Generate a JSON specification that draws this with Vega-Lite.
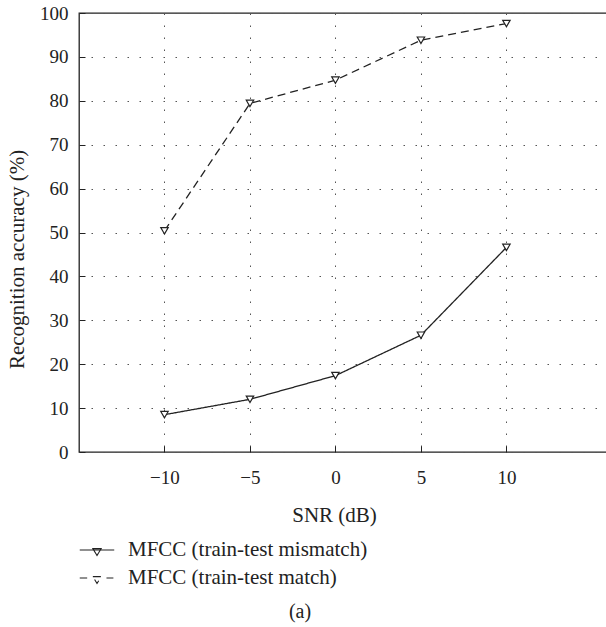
{
  "$schema": "https://vega.github.io/schema/vega-lite/v6.json",
  "width": 530,
  "height": 439,
  "autosize": {"type": "none"},
  "padding": {"left": 79, "top": 13, "right": 0, "bottom": 175},
  "background": "white",
  "title": {"text": "(a)", "orient": "bottom", "anchor": "middle", "dx": -44, "offset": 14, "fontSize": 20, "font": "Liberation Serif", "fontWeight": "normal", "color": "#222"},
  "data": {"values": [
    {"snr": -10, "acc": 8.5, "series": "MFCC (train-test mismatch)"},
    {"snr": -5, "acc": 12.0, "series": "MFCC (train-test mismatch)"},
    {"snr": 0, "acc": 17.4, "series": "MFCC (train-test mismatch)"},
    {"snr": 5, "acc": 26.6, "series": "MFCC (train-test mismatch)"},
    {"snr": 10, "acc": 46.6, "series": "MFCC (train-test mismatch)"},
    {"snr": -10, "acc": 50.4, "series": "MFCC (train-test match)"},
    {"snr": -5, "acc": 79.4, "series": "MFCC (train-test match)"},
    {"snr": 0, "acc": 84.7, "series": "MFCC (train-test match)"},
    {"snr": 5, "acc": 93.8, "series": "MFCC (train-test match)"},
    {"snr": 10, "acc": 97.6, "series": "MFCC (train-test match)"}
  ]},
  "encoding": {
    "x": {"field": "snr", "type": "quantitative",
      "scale": {"domain": [-15, 16], "nice": false, "zero": false},
      "axis": {"values": [-10, -5, 0, 5, 10], "title": "SNR (dB)", "domain": false,
        "tickSize": -6, "tickColor": "#222", "labelPadding": 22,
        "titlePadding": 17, "titleX": 255}},
    "y": {"field": "acc", "type": "quantitative",
      "scale": {"domain": [0, 100], "nice": false},
      "axis": {"values": [0, 10, 20, 30, 40, 50, 60, 70, 80, 90, 100], "title": "Recognition accuracy (%)", "domain": false,
        "tickSize": -6, "tickColor": "#222", "labelPadding": 17, "titlePadding": 12, "titleY": 246}}
  },
  "layer": [
    {"mark": {"type": "line", "color": "#222", "strokeWidth": 1.3},
     "encoding": {"strokeDash": {"field": "series", "type": "nominal",
       "scale": {"domain": ["MFCC (train-test mismatch)", "MFCC (train-test match)"], "range": [[1, 0], [8, 5]]}}}},
    {"mark": {"type": "point", "shape": "triangle-down", "filled": true, "fill": "white", "stroke": "#222", "strokeWidth": 1.2, "size": 55, "opacity": 1}},
    {"mark": {"type": "point", "size": 0, "filled": false, "stroke": "#222", "strokeWidth": 0},
     "encoding": {"shape": {"field": "series", "type": "nominal",
       "scale": {"domain": ["MFCC (train-test mismatch)", "MFCC (train-test match)"],
         "range": ["M-1,0H1M-0.24,-0.08H0.24L0,0.32Z", "M-1,0H-0.57M0.55,0H0.95M-0.24,-0.08H0.24L0,0.32Z"]},
       "legend": {"title": null, "orient": "none", "legendX": 0, "legendY": 519,
         "symbolSize": 1190, "symbolStrokeColor": "#222", "symbolFillColor": "white", "symbolStrokeWidth": 1.1,
         "symbolOpacity": 1, "labelFontSize": 21, "labelFont": "Liberation Serif", "labelColor": "#222",
         "labelOffset": 13, "labelLimit": 400, "rowPadding": -9, "padding": 0,
         "encode": {"symbols": {"update": {"size": {"value": 1190}, "strokeWidth": {"value": 1.1}, "fill": {"value": "white"}, "stroke": {"value": "#222"}, "strokeDash": {"value": [1, 0]}, "opacity": {"value": 1}}}}}}}}
  ],
  "config": {
    "font": "Liberation Serif",
    "view": {"stroke": "#222", "strokeWidth": 1.3},
    "axis": {"labelFont": "Liberation Serif", "titleFont": "Liberation Serif", "labelFontSize": 19, "titleFontSize": 21,
      "titleFontWeight": "normal", "labelColor": "#222", "titleColor": "#222",
      "grid": true, "gridColor": "#555", "gridDash": [1.5, 10.5], "gridWidth": 1, "gridOpacity": 1}
  }
}
